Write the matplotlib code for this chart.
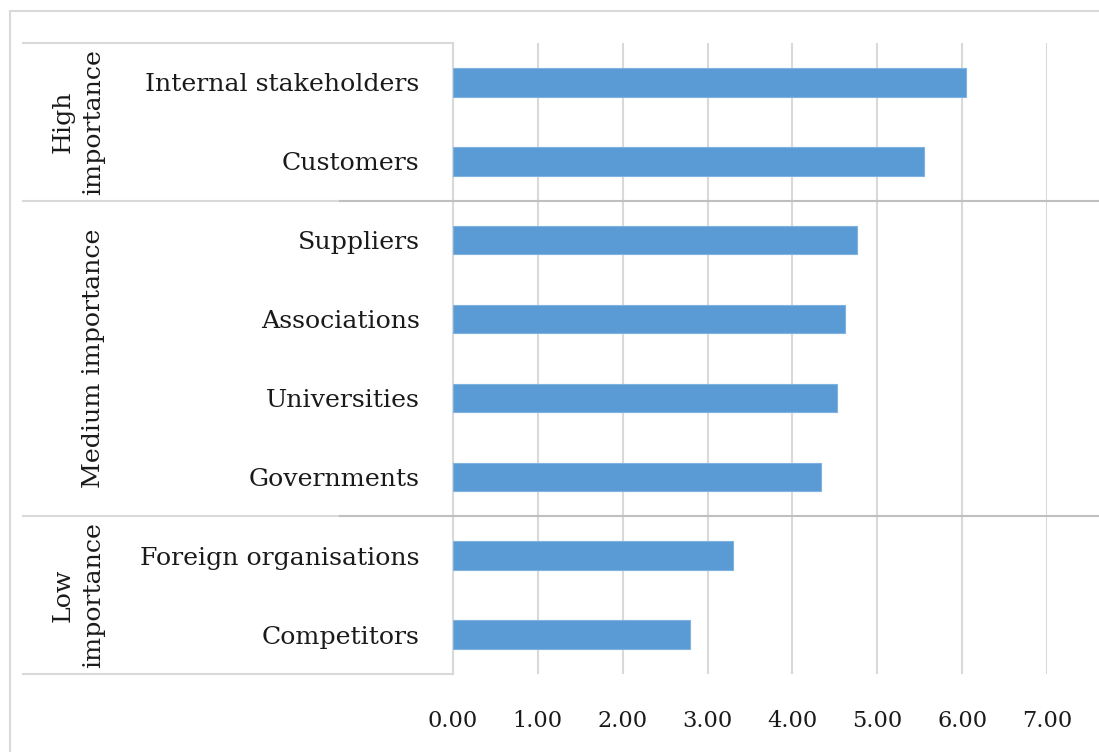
import matplotlib.pyplot as plt
from matplotlib.lines import Line2D
from matplotlib.transforms import blended_transform_factory

# data, top to bottom as shown
stakeholders = ["Internal stakeholders", "Customers", "Suppliers", "Associations",
                "Universities", "Governments", "Foreign organisations", "Competitors"]
scores = [6.04, 5.55, 4.76, 4.62, 4.52, 4.34, 3.30, 2.79]
groups = ["High\nimportance", "Medium importance", "Low\nimportance"]
group_sizes = [2, 4, 2]
x_ticks = [0, 1, 2, 3, 4, 5, 6, 7]

W, H = 1099, 752
plt.rcParams["font.family"] = ["DejaVu Serif"]
FS = 18.2
GRID = "#d9d9d9"
SEP = "#bfbfbf"
TXT = "#1a1a1a"

fig = plt.figure(figsize=(W / 100, H / 100), dpi=100)
fig.patch.set_facecolor("white")

# outer chart border: only its top and left edges are inside the image
fx, fy = 10 / W, 1 - 11 / H
fig.add_artist(Line2D([fx, 1], [fy, fy], color=GRID, linewidth=1.5, transform=fig.transFigure))
fig.add_artist(Line2D([fx, fx], [0, fy], color=GRID, linewidth=1.5, transform=fig.transFigure))

left, right, top, bottom = 453, 1047, 43, 674
ax = fig.add_axes([left / W, 1 - bottom / H, (right - left) / W, (bottom - top) / H])

y = list(range(len(stakeholders)))
ax.barh(y, scores, height=0.36, color="#5b9bd5", edgecolor="#7fb2e0", linewidth=0.8, zorder=3)

ax.set_xlim(0, 7)
ax.set_ylim(len(stakeholders) - 0.5, -0.5)
ax.set_xticks(x_ticks)
ax.set_xticklabels([f"{v:.2f}" for v in x_ticks], fontsize=FS - 2)
ax.set_yticks(y)
ax.set_yticklabels(stakeholders, fontsize=FS)
ax.tick_params(axis="both", length=0, colors=TXT)
ax.tick_params(axis="y", pad=24)
ax.tick_params(axis="x", pad=26)
ax.xaxis.grid(True, color=GRID, linewidth=1.5, zorder=0)
for s in ["top", "right", "bottom"]:
    ax.spines[s].set_visible(False)
ax.spines["left"].set_color(GRID)
ax.spines["left"].set_linewidth(1.5)

# multi-level category axis: group boxes and labels
x_box = (23 - left) / (right - left)
x_end = (W - left) / (right - left)
x_mid = (340 - left) / (right - left)
ax.axhline(-0.5, xmin=x_box, xmax=0, color=GRID, linewidth=1.5, clip_on=False)
ax.axhline(len(stakeholders) - 0.5, xmin=x_box, xmax=0, color=GRID, linewidth=1.5, clip_on=False)

trans = blended_transform_factory(ax.transAxes, ax.transData)
start = 0
for i, (g, n) in enumerate(zip(groups, group_sizes)):
    centre = start + (n - 1) / 2
    ax.text((105 - left) / (right - left), centre, g, transform=trans, rotation=90,
            ha="right", va="center", ma="center", fontsize=FS, color=TXT,
            linespacing=1.4)
    start += n
    if i < len(groups) - 1:
        ax.axhline(start - 0.5, xmin=x_box, xmax=x_mid, color=GRID, linewidth=1.5, clip_on=False)
        ax.axhline(start - 0.5, xmin=x_mid, xmax=x_end, color=SEP, linewidth=1.5,
                   clip_on=False, zorder=4)

fig.savefig("out.png", dpi=100)
